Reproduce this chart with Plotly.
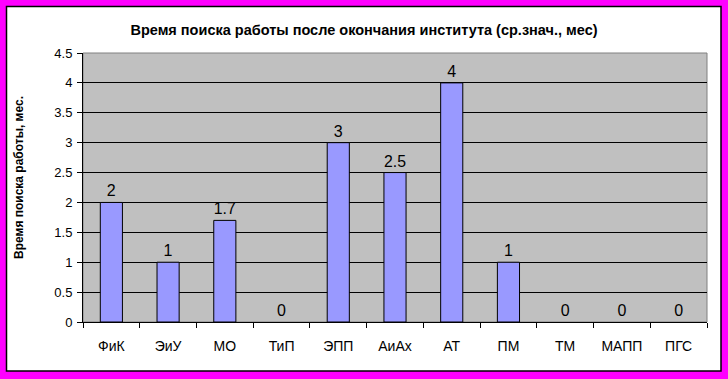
import plotly.graph_objects as go

categories = ["ФиК", "ЭиУ", "МО", "ТиП", "ЭПП", "АиАх", "АТ", "ПМ", "ТМ", "МАПП", "ПГС"]
values = [2, 1, 1.7, 0, 3, 2.5, 4, 1, 0, 0, 0]
labels = ["2", "1", "1.7", "0", "3", "2.5", "4", "1", "0", "0", "0"]
title_text = "Время поиска работы после окончания института (ср.знач., мес)"
ytitle_text = "Время поиска работы, мес."

W, H = 728, 379
L, R, T, B = 83, 707, 53, 322
pw, ph = R - L, B - T

def px(x):
    return (x - L) / pw

def py(y):
    return (B - y) / ph

line_widths = [1 if v > 0 else 0 for v in values]

fig = go.Figure()
fig.add_trace(go.Bar(
    x=categories, y=values, text=labels, textposition="outside",
    textfont=dict(family="Arial, Liberation Sans", size=16, color="black"),
    marker=dict(color="#9999FF", line=dict(color="black", width=line_widths)),
    cliponaxis=False, width=0.39,
))

fig.update_layout(
    width=W, height=H,
    margin=dict(l=L, r=W - R, t=T, b=H - B),
    paper_bgcolor="#FF00FF",
    plot_bgcolor="rgba(0,0,0,0)",
    showlegend=False,
    font=dict(family="Arial, Liberation Sans", color="black"),
    title=dict(text="<b>" + title_text + "</b>", x=(364 - L) / pw, xanchor="center",
               xref="paper",
               y=1 - 30 / H, yanchor="middle",
               font=dict(size=14.5, family="Arial, Liberation Sans", color="black")),
    xaxis=dict(type="category", showline=True, linecolor="black", linewidth=1,
               ticks="outside", tickson="boundaries", ticklen=5, tickcolor="black",
               showgrid=False, tickfont=dict(size=14), ticklabelstandoff=11),
    yaxis=dict(range=[0, 4.5], dtick=0.5, showline=True, linecolor="black", linewidth=1,
               ticks="outside", ticklen=5, tickcolor="black", showgrid=True,
               gridcolor="black", gridwidth=1, zeroline=False,
               tickfont=dict(size=13), ticklabelstandoff=2),
    shapes=[
        dict(type="rect", xref="paper", yref="paper", layer="below",
             x0=px(6.5), x1=px(721), y0=py(6.5), y1=py(371),
             fillcolor="white", line=dict(color="black", width=1.5)),
        dict(type="rect", xref="paper", yref="paper", layer="below",
             x0=0, x1=1, y0=0, y1=1,
             fillcolor="#C0C0C0", line=dict(color="#808080", width=1)),
    ],
    annotations=[
        dict(text="<b>" + ytitle_text + "</b>", xref="paper", yref="paper",
             x=px(19), y=py(178), textangle=-90, showarrow=False,
             font=dict(size=12, color="black"), xanchor="center", yanchor="middle"),
    ],
)

fig.write_html("out.html")
